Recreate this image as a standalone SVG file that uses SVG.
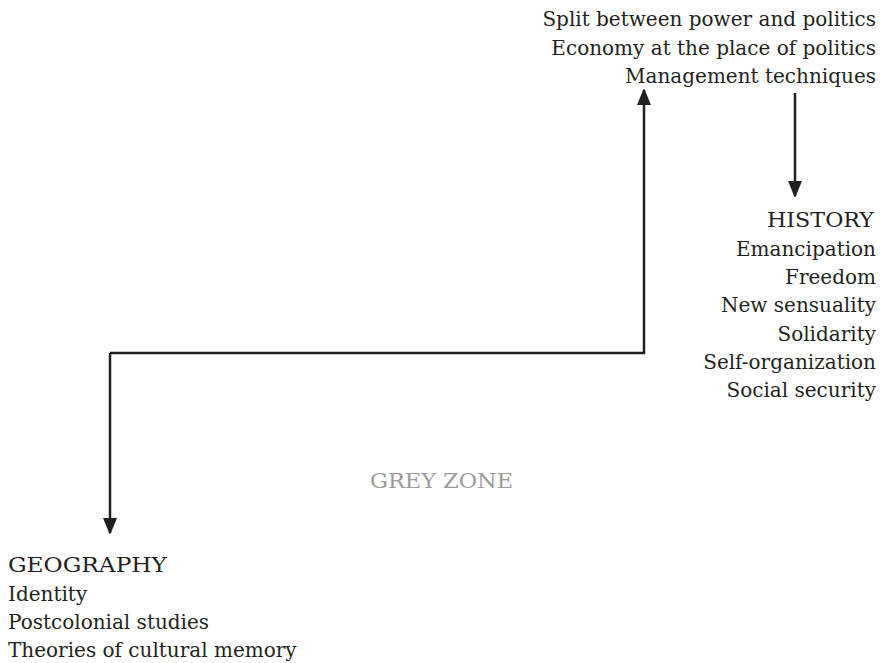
<svg xmlns="http://www.w3.org/2000/svg" width="881" height="663" viewBox="0 0 881 663">
<style>
  text { font-family: "DejaVu Serif", "Liberation Serif", serif; font-size: 20px; fill: #231f20; }
  .r { text-anchor: end; }
  .cap { font-size: 21px; }
  .grey { fill: #9a9a9a; }
  .conn { fill: none; stroke: #231f20; stroke-width: 2.5; }
</style>
<defs>
  <marker id="ah" markerUnits="userSpaceOnUse" markerWidth="16" markerHeight="18" viewBox="0 0 16 18" refX="15" refY="8" orient="auto">
    <path d="M0,1 L17,8 L0,15 Z" fill="#231f20"/>
  </marker>
</defs>
<rect width="881" height="663" fill="#ffffff"/>
<g id="top">
  <text class="r" x="876" y="26">Split between power and politics</text>
  <text class="r" x="876" y="54.5">Economy at the place of politics</text>
  <text class="r" x="876" y="83">Management techniques</text>
</g>
<g id="history">
  <text class="r cap" x="874" y="227" textLength="107" lengthAdjust="spacingAndGlyphs">HISTORY</text>
  <text class="r" x="876" y="255.5">Emancipation</text>
  <text class="r" x="876" y="284">Freedom</text>
  <text class="r" x="876" y="312">New sensuality</text>
  <text class="r" x="876" y="340.5">Solidarity</text>
  <text class="r" x="876" y="368.5">Self-organization</text>
  <text class="r" x="876" y="397">Social security</text>
</g>
<g id="greyzone">
  <text class="grey cap" x="370" y="488" textLength="143" lengthAdjust="spacingAndGlyphs">GREY ZONE</text>
</g>
<g id="geography">
  <text class="cap" x="8" y="572" textLength="159" lengthAdjust="spacingAndGlyphs">GEOGRAPHY</text>
  <text x="8" y="600.5">Identity</text>
  <text x="8" y="629">Postcolonial studies</text>
  <text x="8" y="657">Theories of cultural memory</text>
</g>
<g id="connectors">
  <path class="conn" d="M110,353 L644,353 L644,90" marker-end="url(#ah)"/>
  <path class="conn" d="M110,353 L110,533" marker-end="url(#ah)"/>
  <path class="conn" d="M795,93 L795,196" marker-end="url(#ah)"/>
</g>
</svg>
